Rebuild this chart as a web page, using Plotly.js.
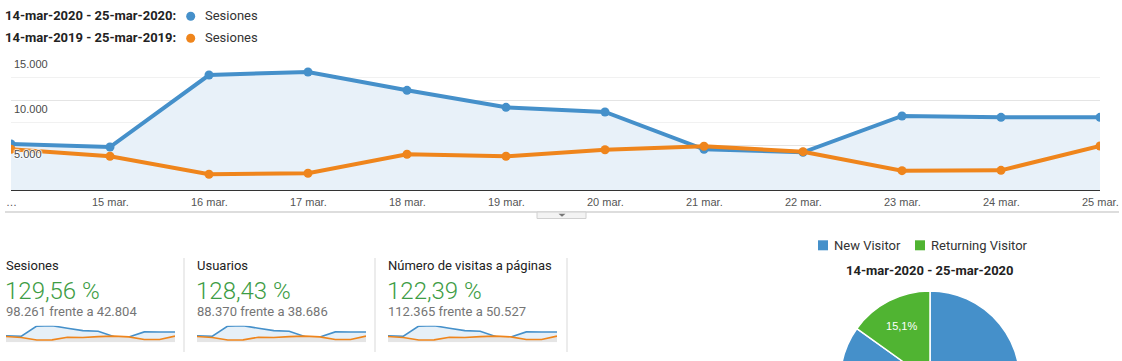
<!DOCTYPE html>
<html>
<head>
<meta charset="utf-8">
<script src="https://cdn.plot.ly/plotly-3.0.1.min.js"></script>
<style>
  html, body { margin: 0; padding: 0; overflow: hidden; background: #fff; }
  #chart { width: 1122px; height: 480px; }
</style>
</head>
<body>
<div id="chart"></div>
<script>
// ---------- data ----------
const dates = ['14 mar.', '15 mar.', '16 mar.', '17 mar.', '18 mar.', '19 mar.', '20 mar.', '21 mar.', '22 mar.', '23 mar.', '24 mar.', '25 mar.'];
const tickLabels = ['…', '15 mar.', '16 mar.', '17 mar.', '18 mar.', '19 mar.', '20 mar.', '21 mar.', '22 mar.', '23 mar.', '24 mar.', '25 mar.'];
const sessions2020 = [5150, 4810, 12810, 13150, 11110, 9220, 8700, 4560, 4220, 8260, 8110, 8110];
const sessions2019 = [4560, 3780, 1780, 1890, 4000, 3780, 4510, 4890, 4290, 2180, 2220, 4920];
const yTickVals = [15000, 10000, 5000];
const yTickLabels = ['15.000', '10.000', '5.000'];
const period2020 = '14-mar-2020 - 25-mar-2020';
const period2019 = '14-mar-2019 - 25-mar-2019';
const metricName = 'Sesiones';
const kpiNames = ['Sesiones', 'Usuarios', 'Número de visitas a páginas'];
const kpiChange = ['129,56 %', '128,43 %', '122,39 %'];
const kpiCompare = ['98.261 frente a 42.804', '88.370 frente a 38.686', '112.365 frente a 50.527'];
const pieLabels = ['New Visitor', 'Returning Visitor'];
const pieValues = [84.9, 15.1];
const pieText = ['', '15,1%'];

// ---------- helpers ----------
const W = 1122, H = 480;
const fx = p => p / W;
const fy = p => 1 - p / H;
const BLUE = '#4590ca', ORANGE = '#ef851c', GREEN = '#50b432';
const ROBOTO = 'Roboto, sans-serif';
const ARIAL = 'Liberation Sans, Arial, sans-serif';

const traces = [];
// main chart
traces.push({
  type: 'scatter', mode: 'lines+markers', x: dates, y: sessions2020,
  xaxis: 'x', yaxis: 'y',
  fill: 'tozeroy', fillcolor: '#e8f1f9',
  line: { color: BLUE, width: 4 }, marker: { color: BLUE, size: 9 },
  hoverinfo: 'none', showlegend: false
});
traces.push({
  type: 'scatter', mode: 'lines+markers', x: dates, y: sessions2019,
  xaxis: 'x', yaxis: 'y',
  line: { color: ORANGE, width: 4 }, marker: { color: ORANGE, size: 9 },
  hoverinfo: 'none', showlegend: false
});
// sparklines
const sparkX = [[6, 175], [197, 366], [388, 557]];
for (let k = 0; k < 3; k++) {
  const ax = k + 2;
  traces.push({
    type: 'scatter', mode: 'lines', x: dates, y: sessions2020,
    xaxis: 'x' + ax, yaxis: 'y' + ax,
    fill: 'tozeroy', fillcolor: '#e6f0f8',
    line: { color: BLUE, width: 1.6 }, hoverinfo: 'none', showlegend: false
  });
  traces.push({
    type: 'scatter', mode: 'lines', x: dates, y: sessions2019,
    xaxis: 'x' + ax, yaxis: 'y' + ax,
    fill: 'tozeroy', fillcolor: '#e5e5e5',
    line: { color: ORANGE, width: 1.6 }, hoverinfo: 'none', showlegend: false
  });
}
// pie
traces.push({
  type: 'pie', labels: pieLabels, values: pieValues, text: pieText,
  textinfo: 'text', textposition: 'inside', insidetextorientation: 'horizontal',
  textfont: { family: ARIAL, size: 11, color: '#ffffff' },
  marker: { colors: [BLUE, GREEN], line: { color: '#ffffff', width: 1.5 } },
  sort: false, direction: 'clockwise', rotation: 0,
  domain: { x: [fx(840), fx(1020)], y: [fy(471), fy(291)] },
  hoverinfo: 'none', showlegend: false
});

const layout = {
  width: W, height: H,
  margin: { l: 0, r: 0, t: 0, b: 0 },
  paper_bgcolor: '#ffffff', plot_bgcolor: 'rgba(0,0,0,0)',
  showlegend: false,
  xaxis: {
    domain: [fx(11), fx(1100)], type: 'category', range: [0, 11],
    showgrid: false, zeroline: false, showticklabels: false,
    showline: true, linecolor: '#333333', linewidth: 1, ticks: '', fixedrange: true
  },
  yaxis: {
    domain: [fy(190.3), fy(55.3)], range: [0, 15000],
    tick0: 0, dtick: 5000, showgrid: true, gridcolor: '#e4e4e4', gridwidth: 1,
    minor: { dtick: 2500, showgrid: true, gridcolor: '#f1f1f1', gridwidth: 1 },
    zeroline: false, showticklabels: false, showline: false, ticks: '', fixedrange: true
  },
  shapes: [], annotations: []
};
for (let k = 0; k < 3; k++) {
  const ax = k + 2;
  layout['xaxis' + ax] = {
    domain: [fx(sparkX[k][0]), fx(sparkX[k][1])], type: 'category', range: [0, 11],
    visible: false, anchor: 'y' + ax, fixedrange: true
  };
  layout['yaxis' + ax] = {
    domain: [fy(342.3), fy(325.7)], range: [0, 13150],
    visible: false, anchor: 'x' + ax, fixedrange: true
  };
}

const S = layout.shapes, A = layout.annotations;
// bottom separator under main chart and tab
S.push({ type: 'line', xref: 'paper', yref: 'paper', x0: fx(5), x1: fx(1119), y0: fy(212), y1: fy(212), line: { color: '#d2d2d2', width: 1.5 } });
S.push({ type: 'rect', xref: 'paper', yref: 'paper', x0: fx(537), x1: fx(586), y0: fy(218.5), y1: fy(212), fillcolor: '#f3f3f3', line: { color: '#d0d0d0', width: 1 } });
S.push({ type: 'path', xref: 'paper', yref: 'paper',
  path: `M ${fx(558.5)} ${fy(213.8)} L ${fx(565.5)} ${fy(213.8)} L ${fx(562)} ${fy(216.8)} Z`,
  fillcolor: '#777777', line: { width: 0 } });
// KPI dividers
[184, 375, 567].forEach(x => S.push({ type: 'line', xref: 'paper', yref: 'paper', x0: fx(x), x1: fx(x), y0: fy(258), y1: fy(352), line: { color: '#d9d9d9', width: 1 } }));
// top legend dots
S.push({ type: 'circle', xref: 'paper', yref: 'paper', x0: fx(186.2), x1: fx(195.2), y0: fy(20.8), y1: fy(11.8), fillcolor: BLUE, line: { width: 0 } });
S.push({ type: 'circle', xref: 'paper', yref: 'paper', x0: fx(186.2), x1: fx(195.2), y0: fy(42.8), y1: fy(33.8), fillcolor: ORANGE, line: { width: 0 } });
// pie legend squares
S.push({ type: 'rect', xref: 'paper', yref: 'paper', x0: fx(818), x1: fx(828), y0: fy(250.3), y1: fy(240.3), fillcolor: BLUE, line: { width: 0 } });
S.push({ type: 'rect', xref: 'paper', yref: 'paper', x0: fx(915), x1: fx(925), y0: fy(250.3), y1: fy(240.3), fillcolor: GREEN, line: { width: 0 } });

function txt(x, y, text, font, xanchor, extra) {
  A.push(Object.assign({
    xref: 'paper', yref: 'paper', x: fx(x), y: fy(y), text: text,
    xanchor: xanchor || 'left', yanchor: 'middle', showarrow: false,
    font: font, borderpad: 0
  }, extra || {}));
}
// top legend
txt(4, 16, period2020 + ':', { family: ROBOTO, size: 13, color: '#222222', weight: 700 });
txt(204, 16, metricName, { family: ROBOTO, size: 13, color: '#333333' });
txt(4, 38, period2019 + ':', { family: ROBOTO, size: 13, color: '#222222', weight: 700 });
txt(204, 38, metricName, { family: ROBOTO, size: 13, color: '#333333' });

// y labels (drawn just below their gridline, with white halo)
yTickVals.forEach((v, i) => {
  A.push({
    xref: 'paper', yref: 'y', x: fx(13), y: v, yshift: -8.7,
    text: yTickLabels[i], xanchor: 'left', yanchor: 'middle', showarrow: false, borderpad: 0,
    font: { family: ARIAL, size: 11, color: '#4a4a4a',
      shadow: '1px 0 1px #fff, -1px 0 1px #fff, 0 1px 1px #fff, 0 -1px 1px #fff' }
  });
});
// x labels
tickLabels.forEach((t, i) => {
  A.push({
    xref: 'x', yref: 'paper', x: dates[i], y: fy(201.7),
    text: t, xanchor: 'center', yanchor: 'middle', showarrow: false, borderpad: 0,
    font: { family: ARIAL, size: 11, color: '#555555' }
  });
});
// KPIs
const kpiX = [5, 196, 387];
for (let k = 0; k < 3; k++) {
  txt(kpiX[k], 265, kpiNames[k], { family: ROBOTO, size: 13, color: '#222222' });
  txt(kpiX[k] - 1, 290.5, kpiChange[k], { family: ROBOTO, size: 24, color: '#3d9c44', weight: 300 });
  txt(kpiX[k], 311.7, kpiCompare[k], { family: ROBOTO, size: 13, color: '#757575' });
}
// pie legend + title
txt(833, 245.3, pieLabels[0], { family: ROBOTO, size: 13, color: '#333333' });
txt(930, 245.3, pieLabels[1], { family: ROBOTO, size: 13, color: '#333333' });
txt(930, 270, period2020, { family: ROBOTO, size: 13, color: '#222222', weight: 700 }, 'center');

Plotly.newPlot('chart', traces, layout, { displayModeBar: false, staticPlot: true });
</script>
</body>
</html>
